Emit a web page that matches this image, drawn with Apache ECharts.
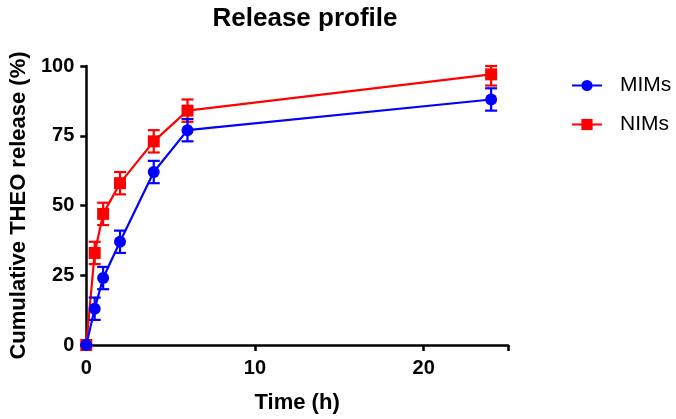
<!DOCTYPE html>
<html>
<head>
<meta charset="utf-8">
<script src="https://cdn.jsdelivr.net/npm/echarts@6/dist/echarts.min.js"></script>
<style>
  html, body { margin: 0; padding: 0; background: #fff; }
  #chart { width: 676px; height: 419px; }
</style>
</head>
<body>
<div id="chart"></div>
<script>
// Sampling times (h)
const times = [0, 0.5, 1, 2, 4, 6, 24];
// Cumulative THEO release (%), mean and SD
const mimMean = [0, 13, 24, 37, 62, 77, 88];
const mimSd   = [0, 4, 4, 4, 4, 4, 4];
const nimMean = [0, 33, 47, 58, 73, 84, 97];
const nimSd   = [0, 4, 4, 4, 4, 4, 4];
const yTicks = [0, 25, 50, 75, 100];
const xTicks = [0, 10, 20];

const FONT = '"Liberation Sans", Arial, sans-serif';
const BLUE = '#0000ff';
const RED = '#ff0000';

function pairs(xs, ys) { return xs.map((x, i) => [x, ys[i]]); }
function errRows(xs, m, s) { return xs.map((x, i) => [x, m[i] - s[i], m[i] + s[i]]); }

// Vertical SD bar with caps; the upper end stops at the top of the y range
function errorBars(color) {
  return function (params, api) {
    const x = api.value(0);
    const lo = api.coord([x, api.value(1)]);
    const hi = api.coord([x, Math.min(api.value(2), 100)]);
    const half = 6;
    const style = { stroke: color, lineWidth: 2.2 };
    return {
      type: 'group',
      children: [
        { type: 'line', shape: { x1: lo[0], y1: lo[1], x2: hi[0], y2: hi[1] }, style },
        { type: 'line', shape: { x1: lo[0] - half, y1: lo[1], x2: lo[0] + half, y2: lo[1] }, style },
        { type: 'line', shape: { x1: hi[0] - half, y1: hi[1], x2: hi[0] + half, y2: hi[1] }, style }
      ]
    };
  };
}

const axisCommon = {
  axisLine: { show: true, onZero: false, lineStyle: { color: '#000', width: 2.5 } },
  axisTick: { show: true, length: 6, lineStyle: { color: '#000', width: 2.5 } },
  splitLine: { show: false }
};

const chart = echarts.init(document.getElementById('chart'), null, { renderer: 'canvas' });
chart.setOption({
  animation: false,
  backgroundColor: '#fff',
  title: {
    text: 'Release profile',
    left: 300, top: 1, textAlign: 'center',
    textStyle: { fontFamily: FONT, fontWeight: 'bold', fontSize: 26, color: '#000' }
  },
  legend: {
    data: ['MIMs', 'NIMs'],
    orient: 'vertical',
    left: 566, top: 70,
    itemWidth: 30, itemHeight: 14, itemGap: 18,
    textStyle: { fontFamily: FONT, fontSize: 21, color: '#000', padding: [0, 0, 0, 13] }
  },
  grid: { left: 86, right: 168, top: 66, bottom: 73, containLabel: false },
  xAxis: Object.assign({
    type: 'value', min: 0, max: 25, interval: 10,
    name: 'Time (h)', nameLocation: 'middle', nameGap: 47,
    nameTextStyle: { fontFamily: FONT, fontWeight: 'bold', fontSize: 22, color: '#000' },
    axisLabel: {
      fontFamily: FONT, fontWeight: 'bold', fontSize: 20, color: '#000', margin: 13,
      formatter: v => xTicks.includes(v) ? String(v) : ''
    }
  }, axisCommon),
  yAxis: Object.assign({
    type: 'value', min: 0, max: 100, interval: 25,
    name: 'Cumulative THEO release (%)', nameLocation: 'middle', nameGap: 54,
    nameTextStyle: { fontFamily: FONT, fontWeight: 'bold', fontSize: 22, color: '#000' },
    axisLabel: {
      fontFamily: FONT, fontWeight: 'bold', fontSize: 20, color: '#000', margin: 12,
      formatter: v => yTicks.includes(v) ? String(v) : ''
    }
  }, axisCommon),
  series: [
    {
      name: 'NIMs', type: 'line', data: pairs(times, nimMean),
      symbol: 'rect', symbolSize: 12, color: RED,
      lineStyle: { color: RED, width: 2.2 }, itemStyle: { color: RED }, z: 2
    },
    {
      name: 'NIMs-err', type: 'custom', data: errRows(times, nimMean, nimSd),
      renderItem: errorBars(RED), z: 2, clip: false, silent: true
    },
    {
      name: 'MIMs', type: 'line', data: pairs(times, mimMean),
      symbol: 'circle', symbolSize: 12, color: BLUE,
      lineStyle: { color: BLUE, width: 2.2 }, itemStyle: { color: BLUE }, z: 3
    },
    {
      name: 'MIMs-err', type: 'custom', data: errRows(times, mimMean, mimSd),
      renderItem: errorBars(BLUE), z: 3, clip: false, silent: true
    }
  ]
});
</script>
</body>
</html>
